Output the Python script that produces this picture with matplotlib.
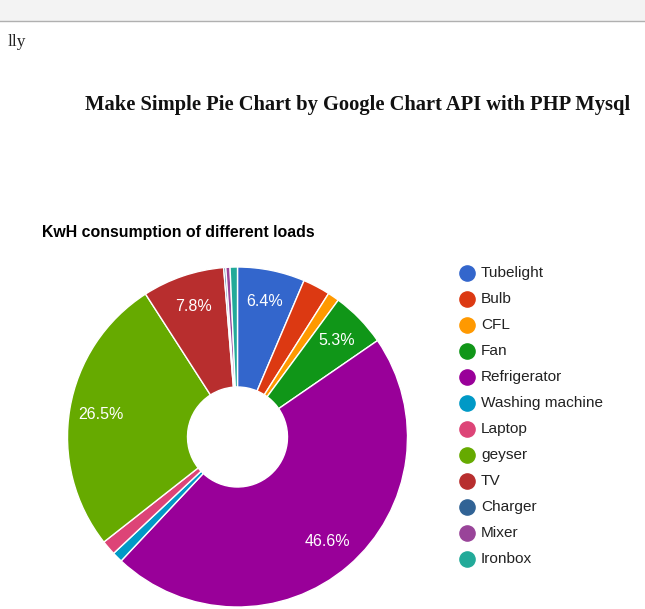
import numpy as np
import matplotlib
matplotlib.use('Agg')
from matplotlib import pyplot as plt

# kWh share of each load (percent)
loads = ['Tubelight', 'Bulb', 'CFL', 'Fan', 'Refrigerator', 'Washing machine',
         'Laptop', 'geyser', 'TV', 'Charger', 'Mixer', 'Ironbox']
share = [6.4, 2.6, 1.1, 5.3, 46.6, 1.0, 1.4, 26.5, 7.8, 0.2, 0.4, 0.7]
colors = ['#3366cc', '#dc3912', '#ff9900', '#109618', '#990099', '#0099c6',
          '#dd4477', '#66aa00', '#b82e2e', '#316395', '#994499', '#22aa99']

page_title = 'Make Simple Pie Chart by Google Chart API with PHP Mysql'
chart_title = 'KwH consumption of different loads'

W, H = 645, 609
fig = plt.figure(figsize=(W / 100, H / 100), dpi=100)
ax = fig.add_axes([0, 0, 1, 1])

def py(y):
    # screen pixel y -> data y
    return H - y

# browser bar remnant at the top
ax.add_patch(plt.Rectangle((0, py(20)), W, 20, color='#f3f3f3', zorder=0))
ax.plot([0, W], [py(20.5), py(20.5)], color='#b0b0b0', lw=1)
ax.text(8, py(42), 'lly', fontsize=12.5, family='Liberation Serif',
        color='#222222', va='center')
ax.text(85, py(105), page_title, fontsize=14.8, family='Liberation Serif',
        weight='bold', color='#111111', va='center')

# donut
cx, cy, R, hole = 237.5, py(437), 170, 50
wedges, _ = ax.pie(share, colors=colors, startangle=90, counterclock=False,
                   center=(cx, cy), radius=R,
                   wedgeprops=dict(width=R - hole, edgecolor='white', linewidth=1))

total = sum(share)
for w, v in zip(wedges, share):
    if v / total < 0.05:
        continue
    mid = np.deg2rad((w.theta1 + w.theta2) / 2)
    r = 138
    ax.text(cx + r * np.cos(mid), cy + r * np.sin(mid), '{:.1f}%'.format(v / total * 100),
            color='white', fontsize=11.5, family='Liberation Sans',
            ha='center', va='center')

ax.text(42, py(232), chart_title, fontsize=11.4, weight='bold',
        family='Liberation Sans', color='#000000', va='center')

# legend
for i, (name, c) in enumerate(zip(loads, colors)):
    yy = py(273 + 26 * i)
    ax.scatter([467], [yy], s=120, color=c, zorder=3)
    ax.text(481, yy, name, fontsize=11.1, family='Liberation Sans',
            color='#222222', va='center')

ax.set_xlim(0, W)
ax.set_ylim(0, H)
ax.set_aspect('auto')
ax.axis('off')

fig.savefig('out.png', dpi=100)
